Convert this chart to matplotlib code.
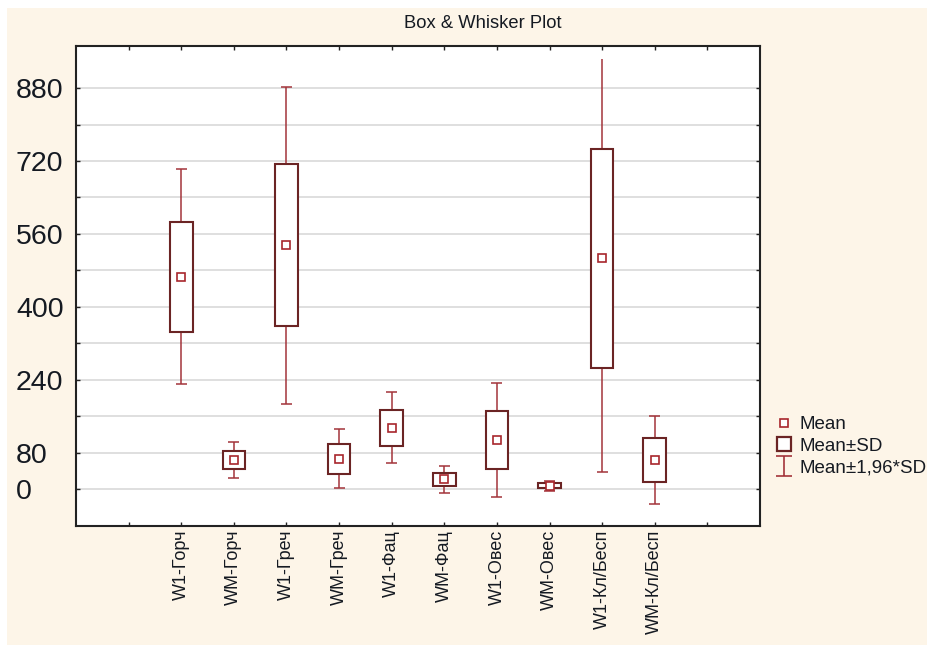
import matplotlib
matplotlib.use('Agg')
import matplotlib.pyplot as plt
import numpy as np
from matplotlib.lines import Line2D
from matplotlib.path import Path
from matplotlib.patches import Rectangle

BG = '#fdf5e8'
WHISK = '#a3343a'
BOX = '#6b2424'
MEAN = '#a8262c'
TXT = '#151a22'
FONT = 'Liberation Sans'

# data (mean and SD per group)
groups = ['W1-Горч', 'WM-Горч', 'W1-Греч', 'WM-Греч', 'W1-Фац',
          'WM-Фац', 'W1-Овес', 'WM-Овес', 'W1-Кл/Бесп', 'WM-Кл/Бесп']
means = [466, 63.5, 535, 66.5, 135, 21, 108, 7, 506, 63.5]
sds = [120.5, 20, 177.5, 33, 39.5, 14.8, 64, 5.5, 239.5, 49]
y_ticks = [0, 80, 160, 240, 320, 400, 480, 560, 640, 720, 800, 880]
y_labeled = [0, 80, 240, 400, 560, 720, 880]
legend_labels = ['Mean', 'Mean±SD', 'Mean±1,96*SD']

# statistica stops the long whisker short of the frame
CLIP = 943
YLIM = (-80.5, 973)

W, H = 927, 645
fig = plt.figure(figsize=(W / 100, H / 100), dpi=100, facecolor='white')
fig.patches.append(Rectangle((7 / W, 0), 1 - 7 / W, 1 - 8 / H, transform=fig.transFigure,
                             facecolor=BG, edgecolor='none', zorder=-10))

ax = fig.add_axes([76 / W, (H - 525.7) / H, (760 - 76) / W, (525.7 - 45.7) / H])
ax.set_facecolor('white')

x = np.arange(1, len(groups) + 1)
m = np.array(means)
s = np.array(sds)
lo2 = m - 1.96 * s
hi2_full = m + 1.96 * s
hi2 = np.minimum(hi2_full, CLIP)

# whiskers
ax.vlines(x, lo2, m - s, color=WHISK, lw=1.1, zorder=2)
ax.vlines(x, m + s, hi2, color=WHISK, lw=1.1, zorder=2)
ax.hlines(lo2, x - 0.105, x + 0.105, color=WHISK, lw=1.1, zorder=2)
capped = hi2_full <= CLIP
ax.hlines(hi2[capped], x[capped] - 0.105, x[capped] + 0.105, color=WHISK, lw=1.1, zorder=2)

# boxes mean +- sd
ax.bar(x, 2 * s, bottom=m - s, width=0.43, facecolor='white', edgecolor=BOX, lw=1.5, zorder=3)

# means
ax.plot(x, m, ls='none', marker='s', ms=5.5, mfc='white', mec=MEAN, mew=1.2, zorder=4)

ax.set_xlim(-1, 12)
ax.set_ylim(*YLIM)
ax.set_xticks(range(0, 12))
ax.set_xticklabels([''] + groups + [''], rotation=90, fontsize=13, family=FONT, color=TXT,
                   va='top', ha='center')
ax.set_yticks(y_ticks)
ax.set_yticklabels([str(v) if v in y_labeled else '' for v in y_ticks], fontsize=20.5,
                   family=FONT, color=TXT)
for t in ax.get_yticklabels():
    t.set_ha('left')

ax.yaxis.grid(True, color='#d9d9d9', lw=1.2)
ax.set_axisbelow(True)
ax.tick_params(axis='both', direction='in', length=3, width=1, color='#222222',
               top=True, right=True)
ax.tick_params(axis='y', pad=43.2)
ax.tick_params(axis='x', pad=3)
for sp in ax.spines.values():
    sp.set_linewidth(1.5)
    sp.set_color('#222222')

fig.text(483 / W, 1 - 23 / H, 'Box & Whisker Plot', ha='center', va='center',
         fontsize=13.2, family=FONT, color=TXT)

# legend
ibeam = Path([(-0.4, 0.5), (0.4, 0.5), (0, 0.5), (0, -0.5), (-0.4, -0.5), (0.4, -0.5)],
             [Path.MOVETO, Path.LINETO, Path.MOVETO, Path.LINETO, Path.MOVETO, Path.LINETO])
handles = [
    Line2D([], [], ls='none', marker='s', ms=5.5, mfc='white', mec=MEAN, mew=1.2),
    Line2D([], [], ls='none', marker='s', ms=10, mfc='white', mec=BOX, mew=1.6),
    Line2D([], [], ls='none', marker=ibeam, ms=14.4, mec=WHISK, mew=1.2),
]
leg = fig.legend(handles, legend_labels, loc='upper left', bbox_to_anchor=(775 / W, 1 - 416 / H),
                 frameon=False, prop={'family': FONT, 'size': 13.5}, handlelength=1.0,
                 handletextpad=0.3, labelspacing=0.25, borderpad=0, borderaxespad=0)
for t in leg.get_texts():
    t.set_color(TXT)

fig.savefig('out.png', dpi=100, facecolor=fig.get_facecolor())
